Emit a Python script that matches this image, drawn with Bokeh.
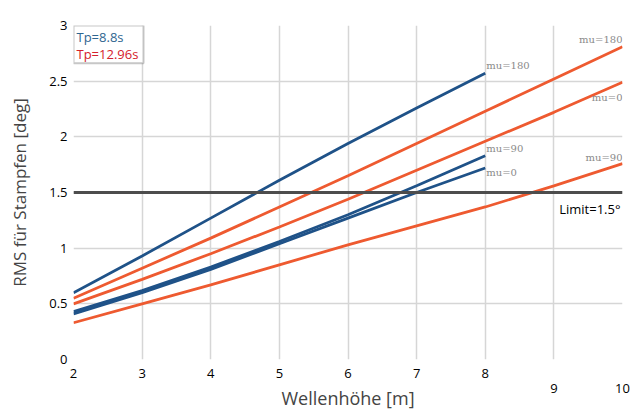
from bokeh.plotting import figure
from bokeh.models import (FixedTicker, LinearAxis, Label, Span, BoxAnnotation,
                          NumeralTickFormatter)
from bokeh.embed import file_html
from bokeh.resources import INLINE

# ---------------- data ----------------
wave_height_short = [2, 3, 4, 5, 6, 7, 8]            # Tp = 8.8 s
wave_height_long = [2, 3, 4, 5, 6, 7, 8, 9, 10]      # Tp = 12.96 s

tp88_mu180 = [0.60, 0.93, 1.27, 1.61, 1.94, 2.26, 2.57]
tp88_mu90 = [0.43, 0.62, 0.83, 1.06, 1.30, 1.56, 1.83]
tp88_mu0 = [0.41, 0.60, 0.81, 1.04, 1.27, 1.50, 1.72]

tp1296_mu180 = [0.55, 0.82, 1.09, 1.37, 1.65, 1.94, 2.23, 2.52, 2.81]
tp1296_mu0 = [0.50, 0.72, 0.95, 1.19, 1.44, 1.70, 1.96, 2.22, 2.49]
tp1296_mu90 = [0.33, 0.50, 0.67, 0.85, 1.03, 1.20, 1.37, 1.56, 1.76]

labels_short = ["mu=180", "mu=90", "mu=0"]
labels_long = ["mu=180", "mu=0", "mu=90"]

x_ticks_main = [2, 3, 4, 5, 6, 7, 8]
x_ticks_low = [9, 10]
y_ticks = [0, 0.5, 1, 1.5, 2, 2.5, 3]

x_title = "Wellenhöhe [m]"
y_title = "RMS für Stampfen [deg]"
limit_value = 1.5
limit_text = "Limit=1.5°"
legend_texts = ["Tp=8.8s", "Tp=12.96s"]

# ---------------- style ----------------
BLUE = "#1f5288"
ORANGE = "#ee5a30"
LEG_BLUE = "#2f6690"
LEG_RED = "#d5202c"
FONT = "Open Sans"

p = figure(width=640, height=412, x_range=(2, 10), y_range=(0, 3),
           output_backend="svg", toolbar_location=None,
           min_border_left=73, min_border_right=18, min_border_top=25,
           min_border_bottom=0)
p.outline_line_color = None
p.background_fill_color = "white"

# main x axis (2..8)
xa = p.xaxis[0]
xa.ticker = FixedTicker(ticks=x_ticks_main)
xa.axis_line_color = None
xa.major_tick_line_color = None
xa.minor_tick_line_color = None
xa.major_tick_out = 0
xa.major_label_standoff = 9
xa.major_label_text_font = FONT
xa.major_label_text_font_size = "13px"
xa.major_label_text_color = "black"

# lowered x axis (9, 10) carrying the axis title
xa2 = LinearAxis(ticker=FixedTicker(ticks=x_ticks_low))
xa2.axis_line_color = None
xa2.major_tick_line_color = None
xa2.minor_tick_line_color = None
xa2.major_tick_out = 0
xa2.major_label_standoff = 3
xa2.major_label_text_font = FONT
xa2.major_label_text_font_size = "13px"
xa2.major_label_text_color = "black"
xa2.axis_label = x_title
xa2.axis_label_text_font = FONT
xa2.axis_label_text_font_size = "18px"
xa2.axis_label_text_font_style = "normal"
xa2.axis_label_standoff = -10
p.add_layout(xa2, "below")

ya = p.yaxis[0]
ya.ticker = FixedTicker(ticks=y_ticks)
ya.formatter = NumeralTickFormatter(format="0.[0]")
ya.axis_line_color = None
ya.major_tick_line_color = None
ya.minor_tick_line_color = None
ya.major_tick_out = 0
ya.major_label_standoff = 6
ya.major_label_text_font = FONT
ya.major_label_text_font_size = "13px"
ya.major_label_text_color = "black"
ya.axis_label = y_title
ya.axis_label_text_font = FONT
ya.axis_label_text_font_size = "17px"
ya.axis_label_text_font_style = "normal"
ya.axis_label_standoff = 15

p.xgrid[0].ticker = FixedTicker(ticks=x_ticks_main + x_ticks_low)
p.xgrid[0].grid_line_color = "#d6d6d6"
p.xgrid[0].grid_line_width = 1.5
p.ygrid[0].ticker = FixedTicker(ticks=y_ticks)
p.ygrid[0].grid_line_color = "#d6d6d6"
p.ygrid[0].grid_line_width = 1.5

# limit line
p.add_layout(Span(location=limit_value, dimension="width",
                  line_color="#4d4d4d", line_width=3))

# series lines
short_series = [tp88_mu180, tp88_mu90, tp88_mu0]
long_series = [tp1296_mu180, tp1296_mu0, tp1296_mu90]
for ys in long_series:
    p.line(wave_height_long, ys, line_color=ORANGE, line_width=2.8)
for ys in short_series:
    p.line(wave_height_short, ys, line_color=BLUE, line_width=2.8)

# series labels
short_offsets = [8, 7, -4]
for ys, txt, off in zip(short_series, labels_short, short_offsets):
    p.add_layout(Label(x=wave_height_short[-1], y=ys[-1], text=txt,
                       x_offset=1, y_offset=off, text_align="left",
                       text_baseline="middle", text_font="DejaVu Serif",
                       text_font_size="10px", text_color="#8a8a8a"))
long_offsets = [7, -15, 6]
for ys, txt, off in zip(long_series, labels_long, long_offsets):
    p.add_layout(Label(x=wave_height_long[-1], y=ys[-1], text=txt,
                       x_offset=0, y_offset=off, text_align="right",
                       text_baseline="middle", text_font="DejaVu Serif",
                       text_font_size="10px", text_color="#8a8a8a"))

# limit label
p.add_layout(Label(x=wave_height_long[-1], y=limit_value, text=limit_text,
                   x_offset=0, y_offset=-5, text_align="right",
                   text_baseline="top", text_font=FONT, text_font_size="13px",
                   text_color="black", background_fill_color="white",
                   background_fill_alpha=1.0, padding=2))

# legend box
p.add_layout(BoxAnnotation(left=2.0, right=3.02, bottom=2.66, top=3.0,
                           fill_color="white", fill_alpha=1.0,
                           line_color="#444444", line_width=2))
p.add_layout(Label(x=2.0, y=2.895, text=legend_texts[0], x_offset=3,
                   text_align="left", text_baseline="middle", text_font=FONT,
                   text_font_size="13px", text_color=LEG_BLUE))
p.add_layout(Label(x=2.0, y=2.745, text=legend_texts[1], x_offset=3,
                   text_align="left", text_baseline="middle", text_font=FONT,
                   text_font_size="13px", text_color=LEG_RED))

open("out.html", "w").write(file_html(p, INLINE))
